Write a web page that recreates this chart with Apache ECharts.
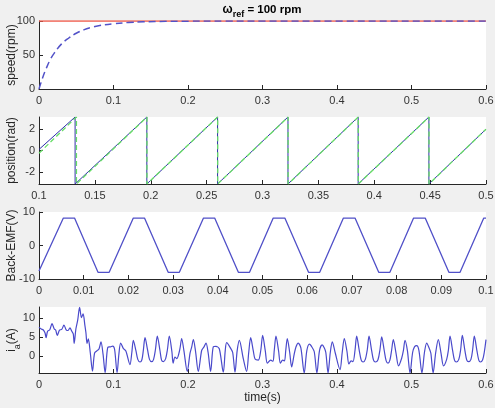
<!DOCTYPE html>
<html>
<head>
<meta charset="utf-8">
<script src="https://cdn.jsdelivr.net/npm/echarts@6/dist/echarts.min.js"></script>
<style>
  html, body { margin: 0; padding: 0; background: #f0f0f0; }
  #chart { width: 495px; height: 408px; }
</style>
</head>
<body>
<div id="chart"></div>
<script>
// speed panel
const speedT = [0, 0.005, 0.01, 0.015, 0.02, 0.03, 0.04, 0.05, 0.06, 0.07, 0.08, 0.1, 0.12, 0.14, 0.17, 0.2, 0.25, 0.3, 0.6]
const speedV = [0, 17, 31, 43, 52, 66, 75, 82, 87, 90.5, 93, 96, 97.8, 98.8, 99.5, 99.8, 100, 100, 100]
const refT = [0, 0.6]
const refV = [100, 100]

// position panel (rad), wrap points
const PI = 3.1416
const posReal = [
  [0.1, 0.1], [0.1323, PI], [0.1323, -PI], [0.1965, PI], [0.1965, -PI], [0.2598, PI], [0.2598, -PI],
  [0.3228, PI], [0.3228, -PI], [0.3856, PI], [0.3856, -PI], [0.4489, PI], [0.4489, -PI], [0.5, 2.0]
]
const posEst = [
  [0.1, -0.25], [0.1335, PI], [0.1335, -PI], [0.1966, PI], [0.1966, -PI], [0.2599, PI], [0.2599, -PI],
  [0.3229, PI], [0.3229, -PI], [0.3857, PI], [0.3857, -PI], [0.449, PI], [0.449, -PI], [0.5, 2.0]
]

// back-EMF panel
const emfT = [0, 0.00545, 0.00795, 0.0132, 0.0157, 0.0211, 0.0236, 0.0289, 0.0314, 0.0368, 0.0393, 0.0446, 0.0471,
  0.0524, 0.055, 0.0603, 0.0628, 0.0681, 0.0707, 0.076, 0.0785, 0.0838, 0.0864, 0.0917, 0.0942, 0.0995, 0.1]
const emfV = [-7.6, 8.2, 8.2, -8, -8, 8.2, 8.2, -8, -8, 8.2, 8.2, -8, -8,
  8.2, 8.2, -8, -8, 8.2, 8.2, -8, -8, 8.2, 8.2, -8, -8, 8.2, 8.2]

// phase current panel
const iaPoints = [
  [0, 7.7], [0.003, 7.2], [0.0055, 7.0], [0.008, 6.2], [0.0095, 4.9], [0.0115, 6.6], [0.0145, 7.0], [0.0175, 8.6],
  [0.0205, 7.2], [0.0225, 6.9], [0.0245, 5.5], [0.0275, 6.9], [0.0305, 7.1], [0.0335, 8.2], [0.0365, 7.0], [0.039, 6.8],
  [0.0415, 7.5], [0.044, 6.6], [0.046, 5.9], [0.0472, 3.4], [0.0495, 7.2], [0.052, 9.6], [0.0545, 12.9], [0.057, 10.2],
  [0.0592, 11.2], [0.0615, 8.3], [0.063, 6.2], [0.0645, 3.4], [0.0662, 4.6], [0.0688, 1.0], [0.0718, -3.9], [0.0745, 0.8],
  [0.0775, 1.4], [0.0805, 1.9], [0.0832, 3.8], [0.086, 0.5], [0.0888, -4.3], [0.0922, 2.3], [0.096, 2.5], [0.099, 2.7],
  [0.1015, 1.8], [0.1048, -4.3], [0.1072, 0.5],
  [0.1096, 3.5], [0.1131, 2.1], [0.1166, 1.4], [0.1221, -2.2], [0.1246, 1.0],
  [0.1266, 4.2], [0.1301, 1.5], [0.1326, -0.8], [0.1356, -1.5], [0.1381, -0.9], [0.14, 1.5],
  [0.1423, 4.9], [0.1458, 1.6], [0.1483, -0.8], [0.1513, -1.4], [0.1538, -0.8], [0.1563, 1.8],
  [0.1588, 5.3], [0.1623, 1.6], [0.1645, -1.0], [0.1669, -1.4], [0.17, -0.6], [0.1724, 1.8],
  [0.1749, 5.3], [0.1784, 1.2], [0.18, -1.8], [0.1825, -0.2], [0.185, -0.6], [0.189, 1.8],
  [0.1915, 4.7], [0.1945, 1.5], [0.199, -4.0], [0.2027, 0.8], [0.205, 2.5],
  [0.2072, 4.4], [0.21, 1.5], [0.2138, -4.0], [0.2184, 1.6], [0.2215, 2.5],
  [0.2242, 3.5], [0.227, 1.0], [0.2304, -4.0], [0.234, 2.5], [0.2375, 2.6], [0.242, 2.0],
  [0.2474, -4.2], [0.25, 1.5], [0.2519, 3.6], [0.2573, 2.1], [0.26, 1.0], [0.2631, -4.2], [0.266, 1.5],
  [0.2689, 4.2], [0.2743, -0.7], [0.2787, -4.0], [0.2815, 1.0],
  [0.2841, 4.9], [0.2876, 1.5], [0.29, -0.7], [0.2944, -1.0], [0.2977, 1.6],
  [0.3002, 5.5], [0.3037, 1.5], [0.3065, -1.8], [0.311, -1.0], [0.314, -1.3], [0.3158, 1.6],
  [0.3181, 5.3], [0.3216, 1.4], [0.324, -1.8], [0.327, -1.0], [0.3295, -1.2], [0.3312, 1.5],
  [0.3333, 4.7], [0.3365, 1.0], [0.3391, -2.8], [0.3425, 0.5], [0.345, 2.5],
  [0.348, 3.5], [0.3515, 2.2], [0.356, -4.4], [0.3595, 1.5], [0.363, 3.2], [0.3665, 2.4], [0.3695, 1.2],
  [0.373, -4.4], [0.3765, 1.5], [0.38, 3.0], [0.383, 2.2], [0.385, 1.0], [0.388, -4.4], [0.391, 1.0],
  [0.3937, 3.8], [0.3975, 1.0], [0.404, -3.5], [0.407, 1.0],
  [0.4098, 4.7], [0.4133, 1.4], [0.416, -2.0], [0.419, -1.2], [0.4215, -1.4], [0.4242, 1.6],
  [0.4264, 5.3], [0.4299, 1.5], [0.4325, -1.0], [0.435, -1.5], [0.438, -0.8], [0.4407, 1.8],
  [0.443, 5.3], [0.4465, 1.5], [0.449, -1.0], [0.4515, -1.5], [0.455, -0.9], [0.4577, 1.8],
  [0.46, 5.1], [0.4635, 1.4], [0.466, -1.2], [0.4685, -1.8], [0.471, -1.0], [0.4733, 1.6],
  [0.4756, 4.4], [0.4791, 1.0], [0.4826, -2.5], [0.4868, -0.5], [0.4891, 1.5],
  [0.4913, 4.2], [0.4945, 1.5], [0.498, -4.4], [0.5015, 1.0], [0.504, 2.5], [0.507, 2.8], [0.51, 1.5],
  [0.514, -4.4], [0.5175, 1.2], [0.5204, 3.5], [0.524, 2.0], [0.526, 0.8], [0.529, -4.4], [0.5325, 1.0],
  [0.536, 4.4], [0.5395, 1.0], [0.543, -2.5], [0.5472, -0.8], [0.5495, 1.6],
  [0.5517, 5.3], [0.5552, 1.5], [0.5577, -1.0], [0.56, -1.5], [0.5635, -0.8], [0.566, 1.8],
  [0.5682, 5.5], [0.5717, 1.5], [0.5742, -1.0], [0.5765, -1.4], [0.5798, -0.8], [0.5821, 1.8],
  [0.5843, 5.3], [0.5878, 1.5], [0.5903, -1.0], [0.5925, -1.5], [0.5955, -0.9], [0.5978, 1.2], [0.6, 4.4]
]

const zip = (xs, ys) => xs.map((x, i) => [x, ys[i]])
const fmt = v => String(+v.toFixed(3))

const FONT = 'Liberation Sans, Arial, sans-serif'
const AX = '#262626'

const xAxisBase = (grid, min, max, interval, extra) => Object.assign({
  type: 'value',
  gridIndex: grid,
  min, max, interval,
  axisLine: { onZero: false, lineStyle: { color: AX, width: 1 } },
  axisTick: { inside: true, length: 4, lineStyle: { color: AX } },
  axisLabel: { color: '#333', fontSize: 11, fontFamily: FONT, margin: 6, formatter: fmt },
  splitLine: { show: false }
}, extra || {})

const yAxisBase = (grid, name, min, max, extra) => Object.assign({
  type: 'value',
  gridIndex: grid,
  min, max,
  name,
  nameLocation: 'middle',
  nameGap: 21,
  nameMoveOverlap: false,
  nameTextStyle: { color: AX, fontSize: 12, fontFamily: FONT },
  axisLine: { show: true, onZero: false, lineStyle: { color: AX, width: 1 } },
  axisTick: { show: true, inside: true, length: 4, lineStyle: { color: AX } },
  axisLabel: { color: '#333', fontSize: 11, fontFamily: FONT, margin: 4 },
  splitLine: { show: false }
}, extra || {})

const gridBox = (top, height) => ({
  left: 39, right: 9, top, height,
  containLabel: false,
  outerBoundsMode: 'none',
  show: true, backgroundColor: '#fff', borderWidth: 0
})

const chart = echarts.init(document.getElementById('chart'))

const option = {
  backgroundColor: '#f0f0f0',
  animation: false,
  graphic: [{
    type: 'text',
    x: 262, y: 1,
    style: {
      text: '{w|ω}{s|ref}{t| = 100 rpm}',
      align: 'center',
      rich: {
        w: { fontSize: 12, fontWeight: 'bold', fontFamily: FONT, fill: '#000' },
        s: { fontSize: 9, fontWeight: 'bold', fontFamily: FONT, fill: '#000', padding: [9, 0, 0, 0] },
        t: { fontSize: 11.5, fontWeight: 'bold', fontFamily: FONT, fill: '#000' }
      }
    }
  }],
  grid: [gridBox(21, 68), gridBox(117, 67), gridBox(212, 67), gridBox(307, 66)],
  xAxis: [
    xAxisBase(0, 0, 0.6, 0.1),
    xAxisBase(1, 0.1, 0.5, 0.05),
    xAxisBase(2, 0, 0.1, 0.01),
    xAxisBase(3, 0, 0.6, 0.1, {
      name: 'time(s)', nameLocation: 'middle', nameGap: 19, nameMoveOverlap: false,
      nameTextStyle: { color: AX, fontSize: 12, fontFamily: FONT }
    })
  ],
  yAxis: [
    yAxisBase(0, 'speed(rpm)', 0, 100, { interval: 50 }),
    yAxisBase(1, 'position(rad)', -PI, PI, {
      axisTick: { show: true, inside: true, length: 4, lineStyle: { color: AX }, customValues: [-2, 0, 2] },
      axisLabel: { color: '#333', fontSize: 11, fontFamily: FONT, margin: 4, customValues: [-2, 0, 2] }
    }),
    yAxisBase(2, 'Back-EMF(V)', -10, 10, { interval: 10 }),
    yAxisBase(3, '{i|i}{a|a}{p|(A)}', -4.4, 13, {
      nameGap: 17,
      nameTextStyle: {
        color: AX, fontSize: 12, fontFamily: FONT,
        rich: {
          i: { fontSize: 12, fontFamily: FONT, color: AX },
          a: { fontSize: 9, fontFamily: FONT, color: AX, padding: [12, 0, 0, 0] },
          p: { fontSize: 12, fontFamily: FONT, color: AX }
        }
      },
      axisTick: { show: true, inside: true, length: 4, lineStyle: { color: AX }, customValues: [0, 5, 10] },
      axisLabel: { color: '#333', fontSize: 11, fontFamily: FONT, margin: 4, customValues: [0, 5, 10] }
    })
  ],
  series: [
    {
      type: 'line', xAxisIndex: 0, yAxisIndex: 0, data: zip(refT, refV),
      showSymbol: false, lineStyle: { color: '#f05a4a', width: 1.5 }
    },
    {
      type: 'line', xAxisIndex: 0, yAxisIndex: 0, data: zip(speedT, speedV),
      smooth: 0.4, showSymbol: false, lineStyle: { color: '#5252c8', width: 1.5, type: [7, 4] }
    },
    {
      type: 'line', xAxisIndex: 1, yAxisIndex: 1, data: posReal,
      showSymbol: false, lineStyle: { color: '#2e2ea8', width: 1 }
    },
    {
      type: 'line', xAxisIndex: 1, yAxisIndex: 1, data: posEst,
      showSymbol: false, lineStyle: { color: '#66dd66', width: 1.3, type: [5, 3] }
    },
    {
      type: 'line', xAxisIndex: 2, yAxisIndex: 2, data: zip(emfT, emfV),
      showSymbol: false, lineStyle: { color: '#5050c8', width: 1.3 }
    },
    {
      type: 'line', xAxisIndex: 3, yAxisIndex: 3, data: iaPoints,
      smooth: 0.3, showSymbol: false, lineStyle: { color: '#4a4acb', width: 1.2 }
    }
  ]
}

chart.setOption(option)
</script>
</body>
</html>
